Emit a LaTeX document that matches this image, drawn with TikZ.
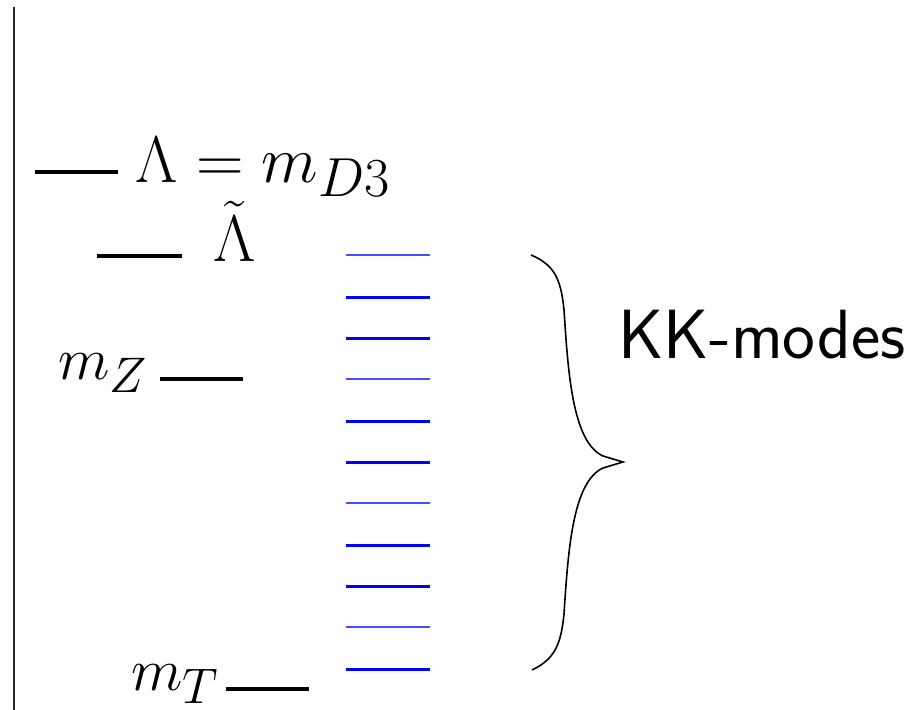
\documentclass[tikz,border=0pt]{standalone}
\begin{document}
\begin{tikzpicture}[x=1pt,y=-1pt,
  lvl/.style={line width=4pt, black},
  thickb/.style={line width=3pt, blue},
  thinb/.style={line width=1.3pt, blue!70},
  lbl/.style={inner sep=0pt, anchor=base west, font=\Huge, scale=2.41},
  biglbl/.style={lbl, scale=1.1},
  kk/.style={inner sep=0pt, anchor=base west, font=\sffamily\Huge, scale=2.8}]
\useasboundingbox (0,0) rectangle (911,710);
% axis
\draw[line width=1.5pt, black!85] (14,7) -- (14,710);
% levels
\draw[lvl] (35,172) -- (118,172);
\node[biglbl] (lam) at (135,182) {$\Lambda = m_{D3}$};
\draw[lvl] (97,256) -- (182,256);
\node[biglbl] (lamt) at (213,261) {$\tilde\Lambda$};
\node[lbl] (mz) at (58,379) {$m_Z$};
\draw[lvl] (160,379) -- (243,379);
\node[lbl] (mt) at (131,690) {$m_T$};
\draw[lvl] (226,689) -- (309,689);
% KK tower
\foreach \y/\s in {255/thinb,297/thickb,338/thickb,379/thinb,421/thickb,462/thickb,503/thinb,545/thickb,586/thickb,627/thinb,669/thickb}
  \draw[\s] (346,\y) -- (430,\y);
% brace
\draw[line width=1.6pt, line join=miter]
  (531,255) .. controls (555,265) and (561,280) .. (564,310)
  .. controls (568,370) and (572,442) .. (603,456) -- (623,462) -- (603,468)
  .. controls (572,482) and (568,554) .. (564,614)
  .. controls (561,644) and (555,659) .. (532,670);
\node[kk] (kkm) at (618,358) {KK-modes};
\end{tikzpicture}
\end{document}
